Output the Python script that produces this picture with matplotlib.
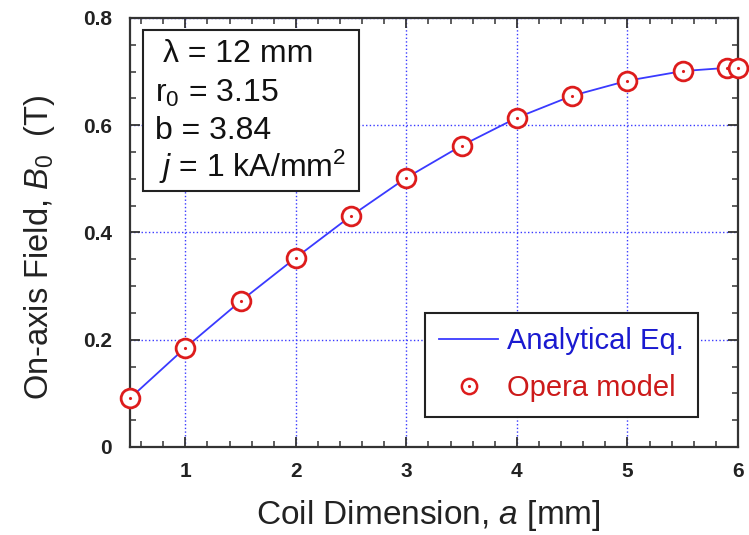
import matplotlib
matplotlib.use("Agg")
import matplotlib.pyplot as plt
from matplotlib.ticker import MultipleLocator, FixedLocator, FuncFormatter
from matplotlib.lines import Line2D
from matplotlib.patches import Rectangle

plt.rcParams['font.family'] = ['Liberation Sans', 'DejaVu Sans']
plt.rcParams['mathtext.fontset'] = 'custom'
plt.rcParams['mathtext.rm'] = 'Liberation Sans'
plt.rcParams['mathtext.it'] = 'Liberation Sans:italic'

# data
a_mm = [0.5, 1.0, 1.5, 2.0, 2.5, 3.0, 3.5, 4.0, 4.5, 5.0, 5.5, 5.9, 6.0]
b0_analytical = [0.091, 0.185, 0.272, 0.353, 0.431, 0.502, 0.562, 0.614, 0.655, 0.683, 0.701, 0.707, 0.707]
b0_opera = [0.091, 0.185, 0.272, 0.353, 0.431, 0.502, 0.562, 0.614, 0.655, 0.683, 0.701, 0.707, 0.707]
x_ticks = [1, 2, 3, 4, 5, 6]
y_ticks = [0, 0.2, 0.4, 0.6, 0.8]
params = ['λ = 12 mm', 'r$_0$ = 3.15', 'b = 3.84', '$j$ = 1 kA/mm$^2$']

line_col = '#3a3aff'
mark_col = '#dd1c1c'
ink = '#222222'

fig = plt.figure(figsize=(7.49, 5.35), dpi=100)
ax = fig.add_axes([0.1736, 0.1645, 0.8117, 0.8019])

ax.plot(a_mm, b0_analytical, color=line_col, lw=1.3, zorder=3)
ax.plot(a_mm, b0_opera, 'o', ms=13.5, mfc='white', mec=mark_col, mew=2.0,
        zorder=4, clip_on=False)
ax.plot(a_mm, b0_opera, '.', ms=2.5, color=mark_col, zorder=5, clip_on=False)

ax.set_xlim(0.5, 6.0)
ax.set_ylim(0, 0.8)
ax.xaxis.set_major_locator(FixedLocator(x_ticks))
ax.yaxis.set_major_locator(FixedLocator(y_ticks))
ax.xaxis.set_minor_locator(MultipleLocator(0.2))
ax.yaxis.set_minor_locator(MultipleLocator(0.05))
ax.yaxis.set_major_formatter(FuncFormatter(lambda v, p: '0' if v == 0 else '%.1f' % v))

ax.grid(True, which='major', color=line_col, ls=':', lw=1.0)
ax.tick_params(which='both', direction='in', top=True, right=True, colors='#333333')
ax.tick_params(which='major', length=7, width=1.3, labelsize=15, labelcolor=ink)
ax.tick_params(axis='y', which='major', pad=13)
ax.tick_params(axis='x', which='major', pad=11)
ax.tick_params(which='minor', length=4, width=1.1)
for lab in ax.get_xticklabels() + ax.get_yticklabels():
    lab.set_fontweight('bold')
for s in ax.spines.values():
    s.set_linewidth(1.6)
    s.set_color('#333333')

ax.set_xlabel('Coil Dimension, $a$ [mm]', fontsize=24, color=ink)
ax.set_ylabel('On-axis Field, $B_0$  (T)', fontsize=23.5, color=ink)
ax.xaxis.set_label_coords(0.49, -0.12)
ax.yaxis.set_label_coords(-0.12, 0.465)

# parameter box
ax.add_patch(Rectangle((0.021, 0.597), 0.356, 0.375, transform=ax.transAxes,
                       fc='white', ec=ink, lw=1.5, zorder=6))
text_x = [0.054, 0.041, 0.041, 0.048]
text_y = [0.897, 0.804, 0.718, 0.629]
for s, tx, ty in zip(params, text_x, text_y):
    ax.text(tx, ty, s, transform=ax.transAxes, fontsize=23, va='baseline',
            ha='left', color='#111111', zorder=7)

# legend
h_line = Line2D([], [], color=line_col, lw=1.3)
h_mark = (Line2D([], [], marker='o', ls='', ms=11, mfc='white', mec=mark_col, mew=1.8),
          Line2D([], [], marker='.', ls='', ms=2.5, color=mark_col))
leg = ax.legend([h_line, h_mark], ['Analytical Eq.', 'Opera model'],
                loc='lower right', bbox_to_anchor=(0.934, 0.07), borderaxespad=0,
                fontsize=21, fancybox=False, framealpha=1, edgecolor=ink,
                handlelength=2.0, handletextpad=0.3, borderpad=0.5,
                labelspacing=0.65)
leg.get_frame().set_linewidth(1.5)
leg.get_texts()[0].set_color('#1a1ad0')
leg.get_texts()[1].set_color('#cc1a1a')

fig.savefig('out.png', dpi=100)
